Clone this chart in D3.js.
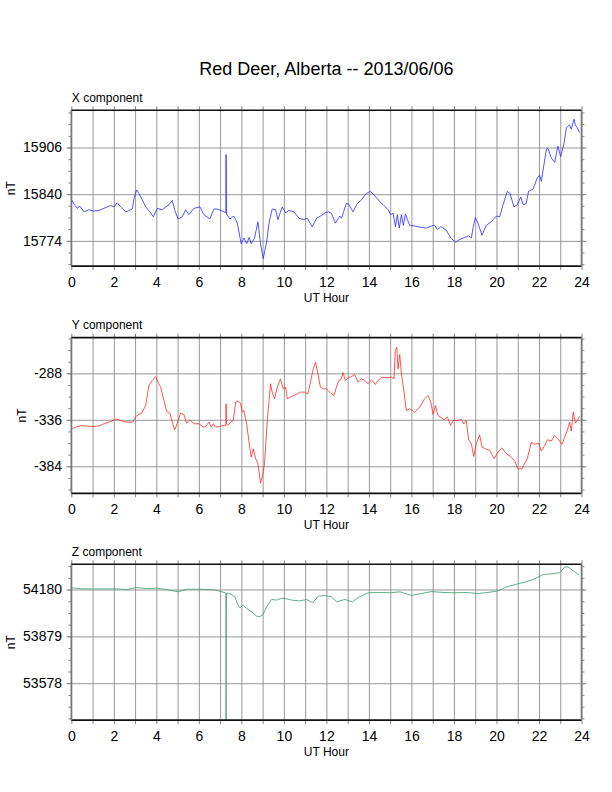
<!DOCTYPE html>
<html>
<head>
<meta charset="utf-8">
<script src="https://cdn.jsdelivr.net/npm/d3@7"></script>
<style>
  body { margin: 0; background: #fff; }
  svg { display: block; font-family: "Liberation Sans", Arial, Helvetica, sans-serif; }
</style>
</head>
<body>
<svg id="chart" width="612" height="792"></svg>
<script>
// valores (hora UT, nT)
const hoursX = [0,0.13,0.28,0.41,0.6,0.83,1.07,1.3,1.54,1.85,2.01,2.16,2.32,2.56,2.87,2.95,3.07,3.18,3.34,3.5,3.7,3.86,4.04,4.28,4.44,4.59,4.75,4.86,5.02,5.22,5.38,5.53,5.77,6.05,6.24,6.52,6.71,6.87,7.18,7.27,7.28,7.3,7.46,7.65,7.81,7.99,8.12,8.25,8.37,8.46,8.62,8.78,8.9,9.03,9.19,9.31,9.45,9.61,9.72,9.92,10.08,10.24,10.47,10.71,10.94,11.1,11.33,11.54,11.72,11.96,
  12.11,12.24,12.42,12.63,12.71,12.94,13.05,13.25,13.46,13.65,13.88,14.07,14.27,14.43,14.67,14.9,15.03,15.14,15.25,15.34,15.43,15.53,15.62,15.72,15.81,15.92,16.15,16.47,16.7,16.94,17.09,17.22,17.38,17.64,17.85,18.08,18.27,18.51,18.69,18.82,18.91,19.01,19.13,19.32,19.52,19.76,19.99,20.15,20.31,20.51,20.64,20.82,20.98,21.14,21.26,21.4,21.51,21.72,21.92,22.03,22.11,22.35,22.42,22.58,22.74,22.89,23.02,23.18,23.29,23.44,23.52,23.65,23.71,23.8,23.91];
const valuesX = [15833,15826,15820,15823,15815,15818,15816,15817,15820,15824,15822,15828,15822,15815,15819,15834,15846,15841,15832,15822,15815,15808,15820,15818,15822,15825,15831,15818,15805,15808,15818,15811,15820,15822,15811,15805,15819,15819,15815,15814,15896,15812,15805,15809,15799,15770,15778,15770,15779,15770,15778,15801,15770,15749,15773,15801,15819,15818,15804,15822,15814,15817,15815,15806,15804,15806,15794,15806,15809,15814,
  15815,15813,15799,15809,15806,15827,15826,15815,15827,15832,15841,15844,15838,15832,15825,15818,15811,15813,15794,15811,15792,15811,15796,15812,15804,15796,15795,15793,15792,15795,15796,15790,15794,15789,15778,15772,15776,15779,15781,15778,15794,15807,15799,15782,15796,15801,15809,15808,15825,15844,15841,15822,15825,15836,15825,15827,15844,15847,15863,15867,15858,15904,15905,15891,15885,15908,15893,15912,15934,15938,15932,15946,15938,15934,15927];

const hoursY = [0,0.2,0.44,0.75,1.07,1.3,1.54,1.85,2.09,2.24,2.48,2.71,2.9,3.03,3.18,3.29,3.5,3.65,3.81,3.97,4.04,4.2,4.36,4.48,4.64,4.75,4.86,4.98,5.14,5.3,5.42,5.58,5.77,6.0,6.21,6.32,6.47,6.58,6.68,6.79,7.02,7.18,7.27,7.28,7.3,7.37,7.49,7.62,7.73,7.84,7.96,8.04,8.12,8.25,8.35,8.46,8.56,8.67,8.78,8.9,9.0,9.09,9.22,9.37,9.45,9.56,9.69,9.84,9.97,10.08,10.16,10.31,10.47,10.63,10.78,10.97,11.13,11.25,11.38,11.49,11.6,11.72,11.85,
  12.0,12.08,12.2,12.36,12.47,12.58,12.71,12.78,12.89,13.02,13.18,13.33,13.49,13.65,13.8,13.96,14.12,14.3,14.43,14.59,14.82,15.06,15.18,15.24,15.31,15.37,15.45,15.53,15.64,15.76,15.92,16.15,16.39,16.62,16.78,16.91,17.02,17.13,17.25,17.41,17.53,17.69,17.85,17.96,18.11,18.35,18.47,18.58,18.69,18.82,18.93,19.05,19.21,19.32,19.48,19.68,19.89,20.07,20.26,20.46,20.67,20.86,21.01,21.2,21.33,21.45,21.64,21.8,21.98,22.11,22.27,22.39,22.58,22.74,22.89,23.08,23.21,23.33,23.44,23.52,23.61,23.71,23.8,23.91];
const valuesY = [-345.3,-343.6,-342.2,-342.5,-342.9,-342.2,-340.1,-337.7,-335.3,-336,-338,-338.4,-338.4,-332.6,-330.5,-329.8,-321.2,-300.6,-295.4,-291.3,-295.4,-302.3,-316,-327,-329.1,-338.4,-346.3,-340.1,-329.1,-330.5,-339.4,-336,-340.1,-340.1,-343.6,-342.9,-338.4,-343.6,-340.1,-343.6,-342.5,-341.8,-341.5,-319.5,-340.5,-341.8,-338.4,-336.7,-317.8,-316.7,-318.8,-328.1,-326.4,-340.1,-357.3,-374.5,-365.9,-376.2,-381.4,-401.4,-393.4,-381.4,-336.7,-298.8,-307.4,-314.3,-302.3,-293.7,-304,-302.3,-314.3,-312.5,-310.9,-309.2,-307.4,-307.4,-309.2,-297.1,-283.4,-276.5,-288.5,-302.3,-304,
  -304,-305.7,-308.5,-310.9,-302.3,-295.4,-293.7,-287.3,-295.4,-292.7,-291.3,-289.2,-297.1,-293.7,-295.4,-298.8,-294.7,-299.5,-295.4,-292,-292.7,-292,-293.7,-264.4,-261,-283.4,-268.6,-288.5,-305.7,-326.4,-324.7,-328.1,-322.9,-314.3,-310.9,-317.8,-330.5,-321.2,-331.5,-333.9,-336,-333.2,-341.8,-336.7,-336.7,-336,-340.1,-336.7,-356.6,-360.8,-373.8,-360.8,-351.5,-364.2,-365.9,-367.6,-376.2,-369.4,-364.9,-371.1,-373.8,-378.7,-386.6,-386.6,-380.7,-376.2,-359,-361.4,-360.1,-368.3,-362.5,-356.6,-357.9,-352.2,-355.5,-361.4,-353.9,-347,-338.4,-347.7,-328.1,-339.4,-336.7,-332.6];

const hoursZ = [0,0.56,1.35,2.13,2.6,3.07,3.54,4.01,4.48,5.03,5.42,6.05,6.68,6.99,7.23,7.27,7.28,7.3,7.46,7.7,7.81,7.93,8.09,8.24,8.48,8.71,8.87,9.03,9.19,9.42,9.66,9.89,10.13,10.36,10.75,11.07,11.35,11.62,11.93,12.24,12.48,12.87,13.23,13.5,13.97,14.52,14.99,15.46,16.0,16.47,16.94,17.49,18.04,18.59,19.14,19.69,20.08,20.47,20.94,21.33,21.72,22.2,22.67,22.98,23.22,23.37,23.61,23.89];
const valuesZ = [54191,54184,54184,54184,54180,54193,54186,54189,54180,54165,54182,54182,54178,54169,54159,54158,53340,54157,54154,54133,54090,54063,54080,54058,54037,54009,54005,54022,54069,54116,54112,54124,54120,54112,54107,54116,54095,54137,54142,54133,54101,54116,54101,54129,54159,54161,54159,54165,54142,54154,54167,54161,54159,54161,54154,54163,54171,54197,54214,54227,54244,54276,54282,54289,54325,54325,54300,54272];

// etiquetas de los ejes
const ticksX = [15774, 15840, 15906];
const ticksY = [-384, -336, -288];
const ticksZ = [53578, 53879, 54180];
const domainX = [15738.3, 15958.6];
const domainY = [-412, -251.1];
const domainZ = [53341, 54342];
const hourTicks = [0,1,2,3,4,5,6,7,8,9,10,11,12,13,14,15,16,17,18,19,20,21,22,23,24];
const hourLabels = [0,2,4,6,8,10,12,14,16,18,20,22,24];

const svg = d3.select('#chart');
svg.append('rect').attr('width', 612).attr('height', 792).attr('fill', 'white');

const left = 71.3, W = 510.2, H = 155.8;

svg.append('text')
  .attr('x', left + W / 2).attr('y', 75)
  .attr('text-anchor', 'middle')
  .attr('font-size', 18)
  .text('Red Deer, Alberta -- 2013/06/06');

const panels = [
  {name: 'X component', hours: hoursX, values: valuesX, ticks: ticksX, domain: domainX, minor: 16.5, color: '#2a2aff', top: 110.3},
  {name: 'Y component', hours: hoursY, values: valuesY, ticks: ticksY, domain: domainY, minor: 12, color: '#ff2a2a', top: 337.6},
  {name: 'Z component', hours: hoursZ, values: valuesZ, ticks: ticksZ, domain: domainZ, minor: 75.25, color: '#3c9a6c', top: 564.3}
];

// sin comas ni signo menos unicode
const plain = d => String(d);

function drawPanel(p, i) {
  const g = svg.append('g').attr('transform', `translate(${left},${p.top})`);

  const x = d3.scaleLinear().domain([0, 24]).range([0, W]);
  const y = d3.scaleLinear().domain(p.domain).range([H, 0]);

  // rejilla
  const vgrid = g.append('g').attr('transform', `translate(0,${H})`)
    .call(d3.axisBottom(x).tickValues(hourTicks).tickSize(-H).tickFormat(''));
  const hgrid = g.append('g')
    .call(d3.axisLeft(y).tickValues(p.ticks).tickSize(-W).tickFormat(''));
  [vgrid, hgrid].forEach(a => {
    a.select('.domain').remove();
    a.selectAll('line').attr('stroke', '#8c8c8c').attr('stroke-width', 0.9);
  });

  // marcas menores hacia fuera
  const minor = [];
  for (let v = p.ticks[0]; v >= p.domain[0]; v -= p.minor) minor.push(v);
  for (let v = p.ticks[0] + p.minor; v <= p.domain[1]; v += p.minor) minor.push(v);
  const tickAxes = [
    g.append('g').call(d3.axisLeft(y).tickValues(minor).tickSize(3).tickFormat('')),
    g.append('g').attr('transform', `translate(${W},0)`).call(d3.axisRight(y).tickValues(minor).tickSize(3).tickFormat('')),
    g.append('g').call(d3.axisLeft(y).tickValues(p.ticks).tickSize(5).tickFormat('')),
    g.append('g').attr('transform', `translate(${W},0)`).call(d3.axisRight(y).tickValues(p.ticks).tickSize(5).tickFormat('')),
    g.append('g').call(d3.axisTop(x).tickValues(hourTicks).tickSize(4).tickFormat('')),
    g.append('g').attr('transform', `translate(0,${H})`).call(d3.axisBottom(x).tickValues(hourTicks).tickSize(4).tickFormat(''))
  ];
  tickAxes.forEach(a => {
    a.select('.domain').remove();
    a.selectAll('line').attr('stroke', '#888').attr('stroke-width', 1);
  });

  // serie
  g.append('clipPath').attr('id', 'clip' + i)
    .append('rect').attr('width', W).attr('height', H);
  const line = d3.line().x(d => x(d[0])).y(d => y(d[1]));
  g.append('path')
    .datum(d3.zip(p.hours, p.values))
    .attr('clip-path', `url(#clip${i})`)
    .attr('fill', 'none')
    .attr('stroke', p.color)
    .attr('stroke-width', 0.8)
    .attr('stroke-linejoin', 'round')
    .attr('d', line);

  // marco
  g.append('line').attr('x1', 0).attr('x2', W).attr('y1', 0).attr('y2', 0)
    .attr('stroke', '#111').attr('stroke-width', 1.6);
  g.append('line').attr('x1', 0).attr('x2', W).attr('y1', H).attr('y2', H)
    .attr('stroke', '#111').attr('stroke-width', 1.6);
  g.append('line').attr('x1', 0).attr('x2', 0).attr('y1', 0).attr('y2', H)
    .attr('stroke', '#777').attr('stroke-width', 1.6);
  g.append('line').attr('x1', W).attr('x2', W).attr('y1', 0).attr('y2', H)
    .attr('stroke', '#777').attr('stroke-width', 1.6);

  // etiquetas
  const xAxisG = g.append('g').attr('transform', `translate(0,${H})`)
    .call(d3.axisBottom(x).tickValues(hourLabels).tickFormat(plain).tickSize(0).tickPadding(10.8));
  const yAxisG = g.append('g')
    .call(d3.axisLeft(y).tickValues(p.ticks).tickFormat(plain).tickSize(0).tickPadding(9.3));
  [xAxisG, yAxisG].forEach(a => {
    a.select('.domain').remove();
    a.selectAll('text').attr('font-size', 14).attr('fill', '#000')
      .attr('font-family', '"Liberation Sans", Arial, Helvetica, sans-serif');
  });

  let labelLeft = 0;
  yAxisG.selectAll('text').each(function () {
    labelLeft = Math.min(labelLeft, this.getBBox().x);
  });

  g.append('text')
    .attr('transform', `translate(${labelLeft - 8},${H / 2}) rotate(-90)`)
    .attr('text-anchor', 'middle')
    .attr('font-size', 12)
    .text('nT');

  g.append('text')
    .attr('x', W / 2).attr('y', H + 35.5)
    .attr('text-anchor', 'middle')
    .attr('font-size', 12)
    .text('UT Hour');

  g.append('text')
    .attr('x', 0.5).attr('y', -8.4)
    .attr('font-size', 12)
    .text(p.name);
}

panels.forEach(drawPanel);
</script>
</body>
</html>
